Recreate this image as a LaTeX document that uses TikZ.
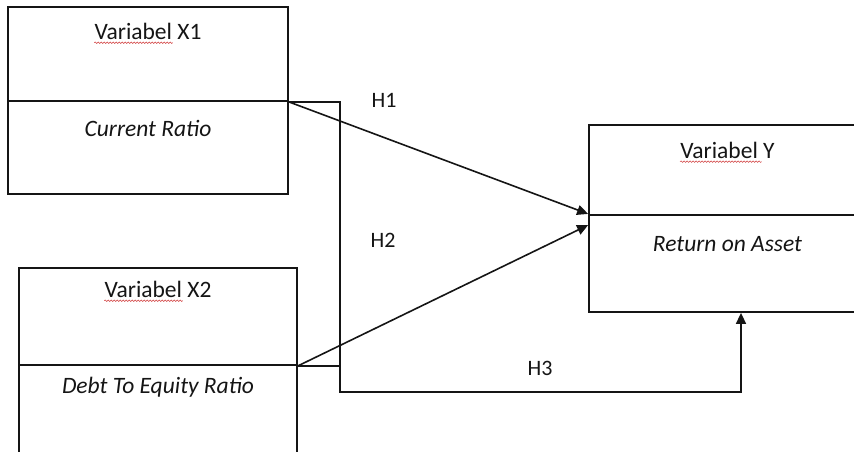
\documentclass[tikz,border=0pt]{standalone}
\usepackage{fontspec}
\setmainfont{Carlito}
\usepackage{tikz}
\usetikzlibrary{arrows.meta, calc, decorations.pathmorphing}
\definecolor{inkdark}{HTML}{151515}
\definecolor{spellred}{HTML}{D03A3A}
\tikzset{
  partbox/.style={draw=inkdark, line width=1.8pt, rectangle, inner sep=0pt},
  boxtext/.style={font=\fontsize{23.5}{27}\selectfont, text=inkdark, inner sep=0pt},
  boxtexti/.style={boxtext, font=\fontsize{23.5}{27}\selectfont\itshape},
  hyp/.style={font=\fontsize{22}{26}\selectfont, text=inkdark, inner sep=0pt},
  link/.style={draw=inkdark, line width=1.6pt},
  linka/.style={link, -{Triangle[length=11pt, width=10pt]}},
  squig/.style={draw=spellred, line width=0.5pt,
                decorate, decoration={snake, amplitude=0.8pt, segment length=3pt}},
}
\begin{document}
\begin{tikzpicture}[x=1pt, y=-1pt]
  \useasboundingbox (0,0) rectangle (854,452);
  \clip (0,0) rectangle (854,452);
  % variabel X1
  \node[partbox, minimum width=280pt, minimum height=94pt] (x1top) at (148,54) {};
  \node[partbox, minimum width=280pt, minimum height=93pt] (x1bot) at (148,147.5) {};
  \node[boxtext] (x1name) at ([yshift=-25pt]x1top.north) {Variabel X1};
  \node[boxtexti] (x1desc) at ([yshift=-28pt]x1bot.north) {Current Ratio};
  % variabel X2
  \node[partbox, minimum width=278pt, minimum height=97pt] (x2top) at (158,316.5) {};
  \node[partbox, minimum width=278pt, minimum height=100pt] (x2bot) at (158,415) {};
  \node[boxtext] (x2name) at ([yshift=-22pt]x2top.north) {Variabel X2};
  \node[boxtexti] (x2desc) at ([yshift=-23pt]x2bot.north) {Debt To Equity Ratio};
  % variabel Y
  \node[partbox, minimum width=281pt, minimum height=90pt] (ytop) at (729.5,170) {};
  \node[partbox, minimum width=281pt, minimum height=97pt] (ybot) at (729.5,263.5) {};
  \node[boxtext] (yname) at ([xshift=-2pt, yshift=-26pt]ytop.north) {Variabel Y};
  \node[boxtexti] (ydesc) at ([xshift=-2pt, yshift=-30pt]ybot.north) {Return on Asset};
  % spelling marks
  \draw[squig] ([yshift=-3.5pt]x1name.base west) -- ([yshift=-3.5pt]$(x1name.base west)!0.73!(x1name.base east)$);
  \draw[squig] ([yshift=-3.5pt]x2name.base west) -- ([yshift=-3.5pt]$(x2name.base west)!0.73!(x2name.base east)$);
  \draw[squig] ([yshift=-3.5pt]yname.base west) -- ([yshift=-3.5pt]$(yname.base west)!0.86!(yname.base east)$);
  % hypotheses
  \coordinate (h3a) at (340,392);
  \coordinate (h3b) at (741,392);
  \draw[linka] (x1top.south east) -- ($(ytop.south west)+(0,-2)$);
  \draw[linka] (x2top.south east) -- ($(ybot.north west)+(0,11)$);
  \draw[linka] (x1top.south east) -| (h3a) -- (h3b) -- (h3b |- ybot.south);
  \draw[link] (x2top.south east) -- (x2top.south east -| h3a);
  \node[hyp] (h1) at (384,100) {H1};
  \node[hyp] (h2) at (383,240) {H2};
  \node[hyp] (h3) at (540,368) {H3};
\end{tikzpicture}
\end{document}
